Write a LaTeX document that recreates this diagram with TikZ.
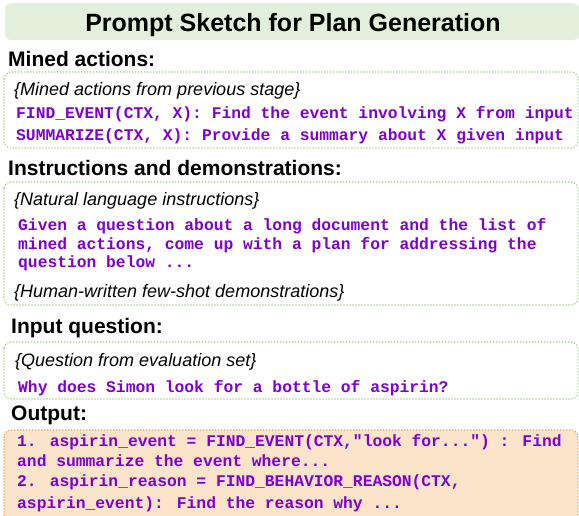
\documentclass[tikz,border=0pt]{standalone}
\usepackage{fontspec}
\setmainfont{Liberation Sans}
\newfontfamily\cour{Liberation Mono}
\definecolor{titlefill}{RGB}{226,239,218}
\definecolor{greendot}{RGB}{169,209,142}
\definecolor{purp}{RGB}{127,0,215}
\definecolor{orfill}{RGB}{252,228,202}
\definecolor{ordot}{RGB}{236,170,100}
\tikzset{
  hdr/.style={anchor=base west,inner sep=0pt,font=\fontsize{21}{21}\selectfont\bfseries},
  ital/.style={anchor=base west,inner sep=0pt,font=\fontsize{18}{18}\selectfont\itshape},
  code/.style={anchor=base west,inner sep=0pt,text=purp,font=\fontsize{16.3}{16.3}\selectfont\cour\bfseries},
  dotbox/.style={rounded corners=7pt,draw=greendot,line width=1.7pt,dash pattern=on 0pt off 3pt,line cap=round},
  orbox/.style={rounded corners=7pt,draw=ordot,fill=orfill,line width=1.7pt,dash pattern=on 0pt off 3pt,line cap=round}
}
\begin{document}
\begin{tikzpicture}[x=1pt,y=-1pt]
\useasboundingbox (0,0) rectangle (579,515);
% title
\fill[titlefill,rounded corners=6pt] (5,3) rectangle (579,40);
\node[anchor=base,inner sep=0pt,font=\fontsize{25}{25}\selectfont\bfseries] (title) at (293,31) {Prompt Sketch for Plan Generation};
% mined actions
\node[hdr] (h1) at (8,66) {Mined actions:};
\draw[dotbox] (4,72) rectangle (578,148);
\node[ital] (t1) at (14,95) {\{Mined actions from previous stage\}};
\node[code] (c1) at (16,118) {FIND\_EVENT(CTX, X): Find the event involving X from input};
\node[code] (c2) at (16,140) {SUMMARIZE(CTX, X): Provide a summary about X given input};
% instructions
\node[hdr] (h2) at (8,175) {Instructions and demonstrations:};
\draw[dotbox] (4,182) rectangle (578,305);
\node[ital] (t2) at (14,205) {\{Natural language instructions\}};
\node[code] (c3) at (18,230) {Given a question about a long document and the list of};
\node[code] (c4) at (18,249) {mined actions, come up with a plan for addressing the};
\node[code] (c5) at (18,267) {question below ...};
\node[ital] (t3) at (14,297) {\{Human-written few-shot demonstrations\}};
% input question
\node[hdr] (h3) at (11,333) {Input question:};
\draw[dotbox] (4,342) rectangle (578,399);
\node[ital] (t4) at (15,366) {\{Question from evaluation set\}};
\node[code] (c6) at (18,392) {Why does Simon look for a bottle of aspirin?};
% output
\node[hdr] (h4) at (11,420) {Output:};
\draw[orbox] (4,430) rectangle (578,522);
\node[code] (c7) at (17,446) {1. aspirin\_event = FIND\_EVENT(CTX,\char34 look for...\char34) : Find};
\node[code] (c8) at (17,466) {and summarize the event where...};
\node[code] (c9) at (17,486) {2. aspirin\_reason = FIND\_BEHAVIOR\_REASON(CTX,};
\node[code] (c10) at (17,508) {aspirin\_event): Find the reason why ...};
\end{tikzpicture}
\end{document}
